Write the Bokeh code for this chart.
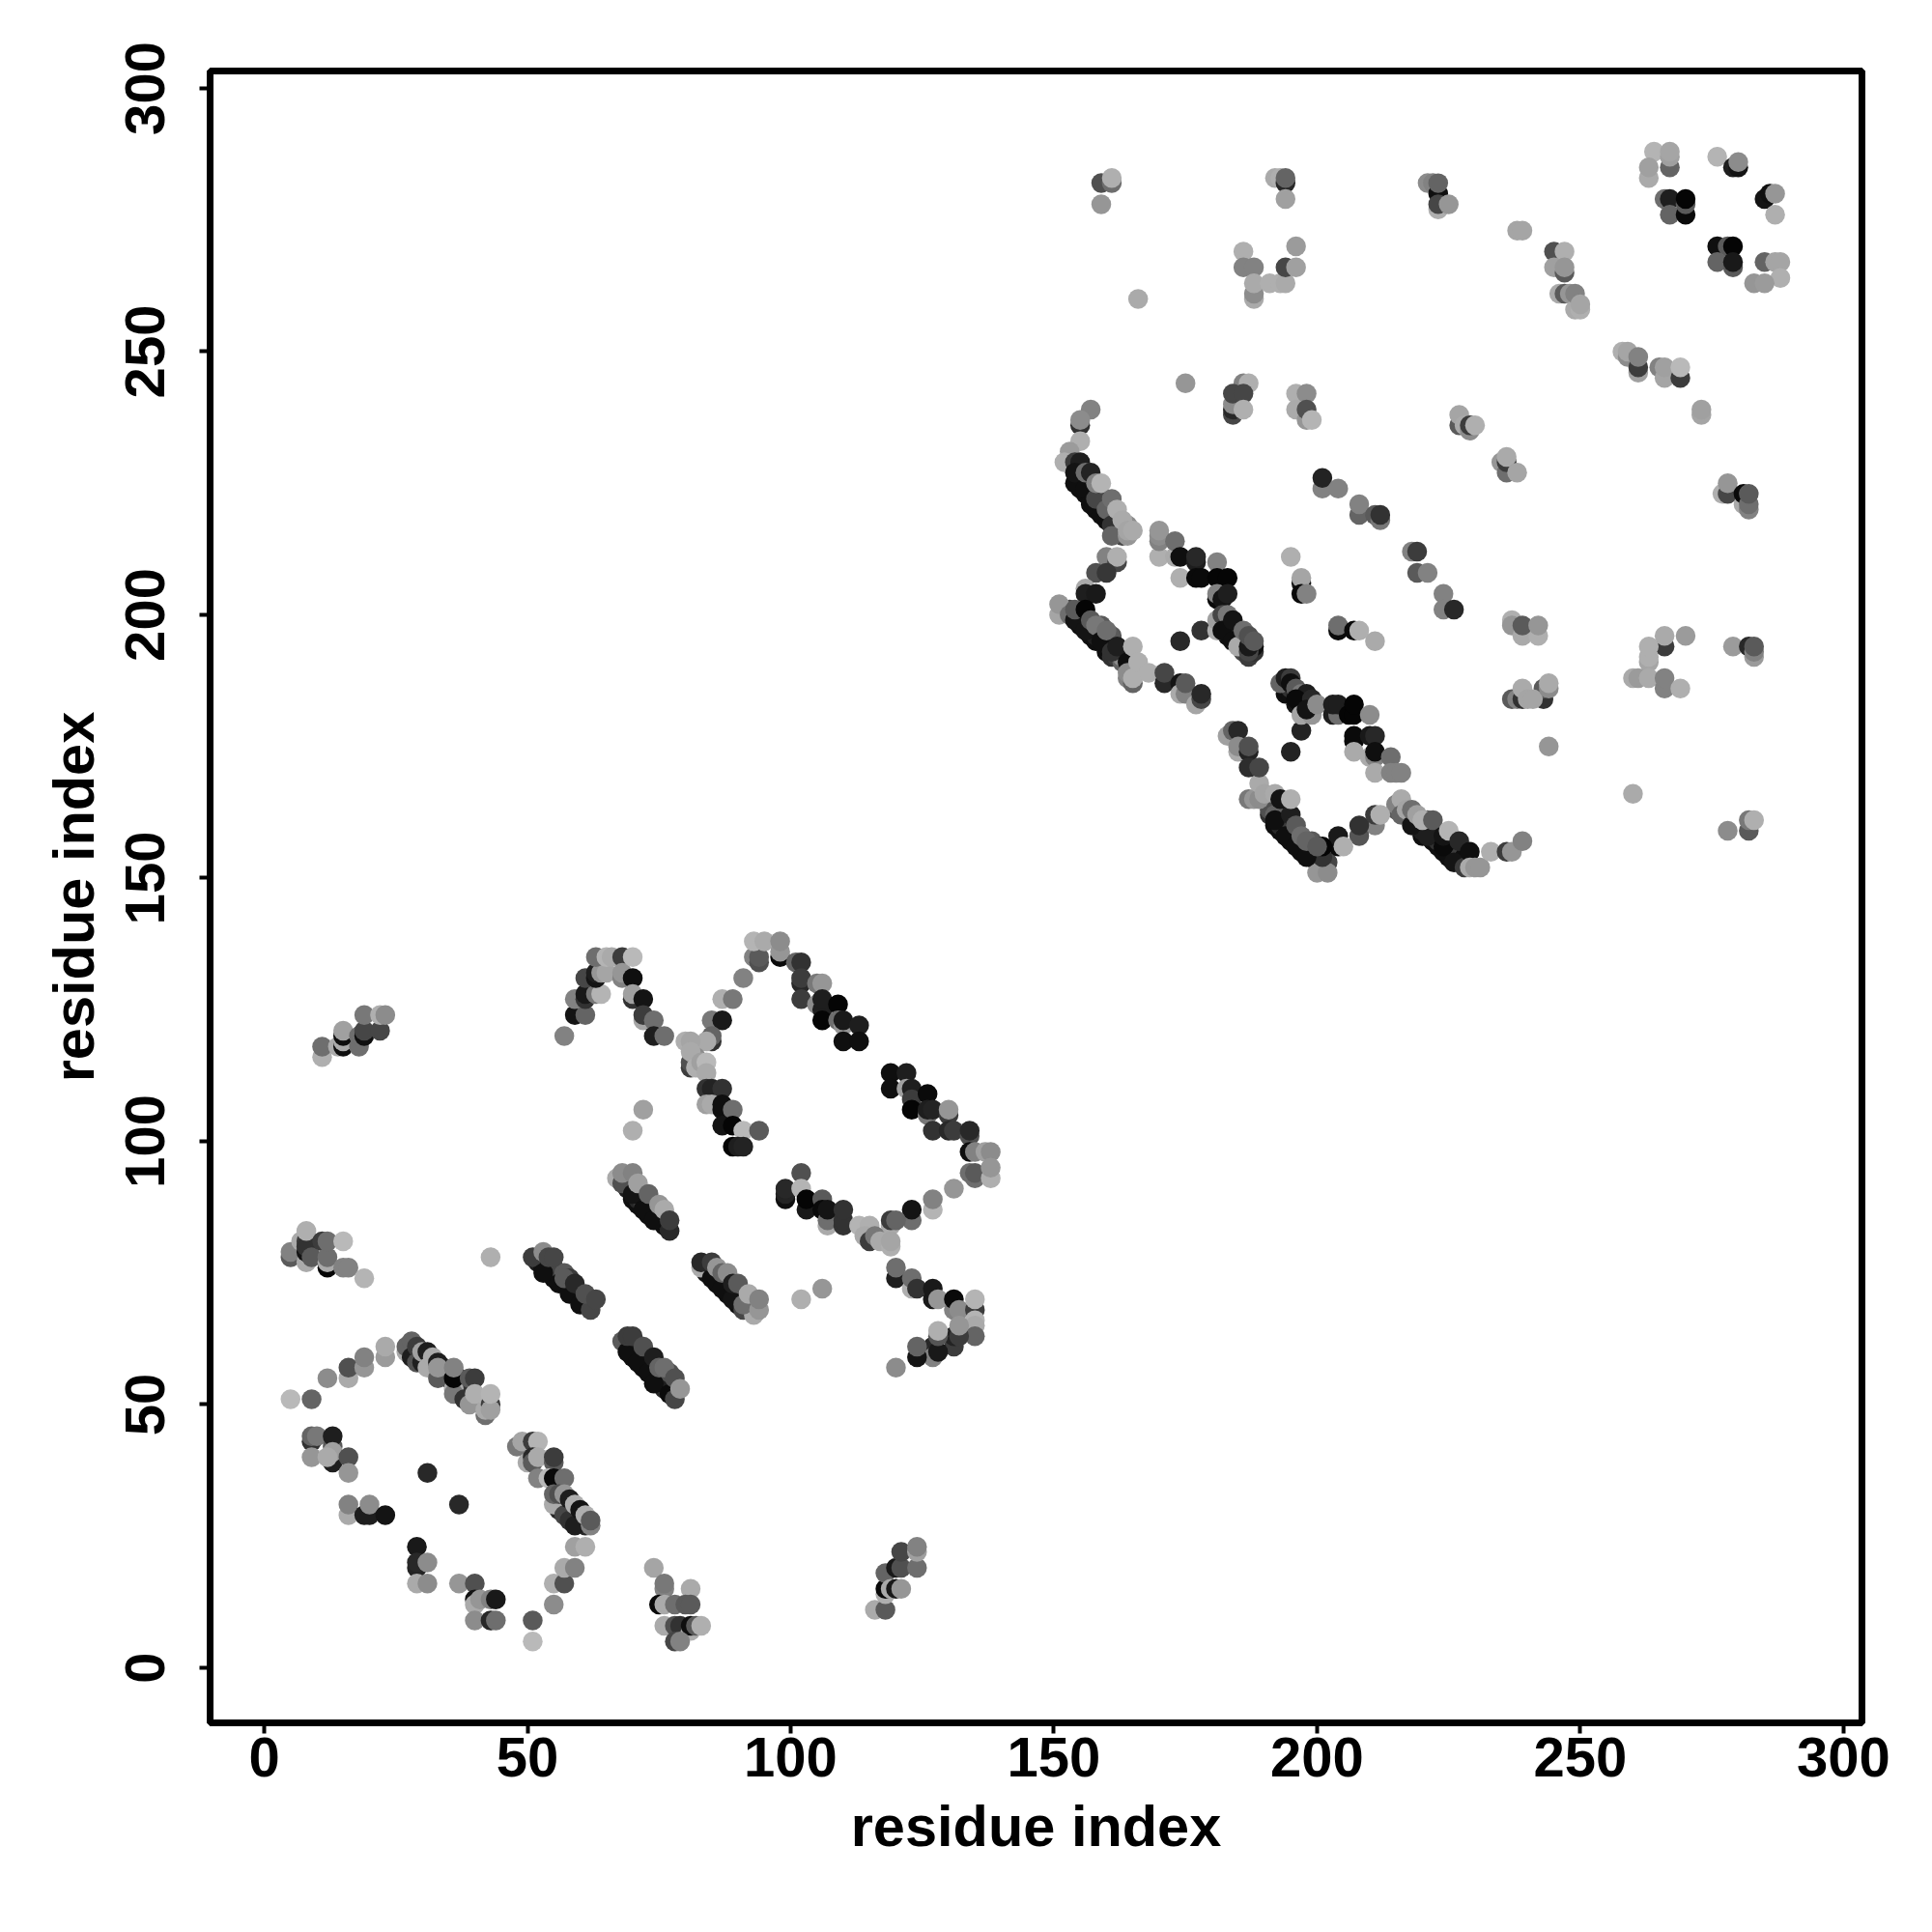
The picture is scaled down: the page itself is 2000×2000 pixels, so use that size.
from bokeh.plotting import figure
from bokeh.models import Range1d, FixedTicker, ColumnDataSource
from bokeh.embed import file_html
from bokeh.resources import INLINE

axis_title = "residue index"
tick_values = [0, 50, 100, 150, 200, 250, 300]

# each entry: residue i, residue j, grey level of the contact
# contacts mostly hidden along the dense diagonals (drawn first)
under_b = [(28,60,30),(28,61,60),(29,60,20),(30,59,15),(31,58,25),(32,58,60),(32,57,30),(33,56,40),(34,57,80),(35,55,30),(35,56,70),(37,54,60),(37,55,40),(38,53,50)]
under_d = [(56,30,40),(56,31,20),(56,32,60),(57,30,15),(57,31,70),(58,29,15),(58,30,40),(59,28,15),(59,29,60),(60,28,15),(60,29,70),(61,27,40),(61,28,20)]
under_e = [(52,77,30),(53,76,15),(54,75,15),(55,74,15),(55,76,60),(56,74,20),(56,75,70),(57,73,15),(57,75,90),(58,72,15),(58,74,60),(59,71,15),(59,72,30),(60,70,15),(61,69,15),(62,69,20)]
under_f = [(69,61,20),(70,59,15),(70,60,40),(71,59,15),(71,61,70),(72,57,15),(72,58,20),(72,59,60),(73,57,15),(73,59,50),(74,55,15),(74,57,60),(75,54,15),(75,55,20),(76,53,40),(76,54,15),(77,54,30),(77,56,80),(78,53,60)]
under_g = [(84,75,20),(85,75,50),(86,73,15),(86,74,30),(87,73,50),(88,71,15),(88,72,20),(89,71,60),(90,69,15),(90,71,80),(91,70,60),(92,68,40),(92,69,15),(93,69,90)]
under_m = [(69,91,30),(70,89,15),(70,91,70),(71,88,15),(71,89,40),(72,88,60),(73,86,15),(73,87,20),(74,86,50),(75,85,15),(75,86,60),(76,84,15),(76,85,30)]
under_ab = [(155,228,20),(155,226,15),(155,224,15),(156,226,40),(156,223,15),(157,222,15),(157,224,25),(158,220,15),(158,221,20),(159,220,30),(159,222,60),(160,218,15),(160,219,20),(161,218,30),(161,219,70),(162,216,40),(162,217,80),(163,215,70),(163,216,100),(164,217,140)]
under_ac = [(153,201,70),(155,200,15),(155,199,15),(155,198,15),(156,199,40),(157,196,15),(157,197,15),(158,195,15),(158,196,30),(159,197,60),(159,198,90),(160,193,15),(160,194,15),(161,192,50),(161,194,25),(161,196,90),(162,192,60),(163,191,100),(163,192,140),(164,193,30)]
under_ad = [(183,196,15),(183,198,20),(184,196,15),(184,197,30),(185,195,15),(185,196,50),(186,193,70),(186,194,15),(186,195,60),(187,192,60),(188,193,50),(188,194,15)]
under_aa = [(194,185,15),(194,186,15),(195,185,15),(195,186,50),(196,183,20),(196,185,40),(197,183,15),(197,184,15),(198,183,15),(198,184,30),(199,182,30),(199,183,15)]
under_y = [(191,162,50),(191,163,80),(192,160,15),(193,159,15),(193,160,40),(194,160,60),(194,163,90),(195,157,15),(195,158,20),(196,158,60),(197,155,15),(197,156,15),(198,156,40),(199,154,15),(199,155,20),(199,157,90),(200,153,60),(200,154,30),(200,155,60),(201,153,70),(202,153,70)]
under_x = [(219,160,40),(220,158,15),(220,159,30),(221,159,60),(221,161,100),(222,157,15),(222,158,20),(223,156,15),(223,157,50),(224,155,15),(225,154,15),(225,156,30),(226,155,20),(227,153,15),(227,154,60),(228,153,40),(228,154,15)]

cluster_a = [(5,78,90),(5,79,130),(7,81,170),(8,77,170),(8,81,60),(8,79,20),(8,80,50),(8,83,175),(9,78,90),(11,81,60),(12,76,5),(12,77,170),(12,78,110),(12,81,110),(15,81,185),(15,76,130),(16,76,130),(19,74,180),(43,78,175)]
cluster_b = [(5,51,185),(9,51,100),(12,55,140),(16,55,170),(16,57,80),(19,57,150),(19,59,130),(23,59,155),(23,61,170),(27,60,170),(27,61,100),(28,62,100),(28,59,30),(29,58,80),(30,58,30),(29,61,60),(30,60,160),(31,60,30),(31,57,170),(32,59,170),(33,58,30),(33,55,90),(33,57,150),(36,53,170),(36,52,120),(36,55,5),(36,57,130),(39,55,90),(40,55,60),(38,51,50),(39,50,150),(40,52,175),(42,48,110),(42,49,170),(43,50,60),(43,49,160),(43,52,180)]
cluster_c = [(9,43,50),(9,44,100),(10,44,120),(13,39,30),(13,42,90),(13,44,30),(13,41,160),(9,40,150),(12,40,170),(16,40,80),(16,37,150),(31,37,40),(37,31,40),(16,29,170),(16,31,130),(19,29,30),(20,29,30),(20,31,140),(23,29,20),(29,23,25),(29,19,35),(29,20,40),(31,20,140),(29,16,170),(31,16,140),(37,16,150),(40,16,80),(40,13,20),(40,12,170),(41,13,150),(43,13,130),(44,13,25),(40,9,140),(43,9,40),(44,9,110),(51,9,90),(51,5,185),(55,12,140),(55,16,175),(57,16,80),(57,19,170),(59,19,130),(59,23,160),(61,23,175)]
cluster_d = [(48,42,120),(49,43,165),(51,43,60),(52,43,180),(50,39,170),(51,40,40),(51,39,90),(52,40,170),(55,39,90),(55,40,60),(52,36,130),(54,36,185),(55,36,10),(57,36,110),(55,31,170),(55,33,100),(56,33,80),(57,29,70),(58,28,50),(59,27,30),(57,33,150),(58,32,30),(59,31,175),(60,30,20),(61,29,175),(62,27,130),(62,28,90)]
cluster_e = [(51,78,60),(53,75,15),(56,73,15),(58,71,15),(60,69,15),(53,79,140),(54,78,70),(55,78,70),(57,74,90),(59,73,40),(62,68,70),(61,71,80),(63,70,70)]
cluster_f = [(68,62,90),(69,60,15),(71,58,15),(73,56,15),(74,54,15),(77,52,10),(78,51,70),(69,63,60),(70,63,60),(72,61,80),(74,59,30),(75,57,100),(76,57,110),(78,55,80),(79,53,150)]
cluster_g = [(83,76,170),(83,77,40),(85,74,15),(87,72,15),(89,70,20),(91,68,70),(93,67,170),(85,77,60),(86,76,150),(87,75,100),(88,75,140),(89,73,30),(90,73,90),(91,69,110),(92,71,170),(94,68,150),(94,70,130),(102,70,175),(106,72,150)]
cluster_h = [(120,74,30),(120,76,110),(123,72,175),(123,74,110),(124,72,50),(127,70,25),(127,72,25),(128,70,150),(131,68,130),(131,70,10),(132,68,140),(135,68,60),(135,70,180),(135,66,180),(135,65,170),(135,63,100),(131,61,60),(131,63,35),(132,63,60),(132,65,150),(127,61,40),(127,59,130),(128,60,25),(128,63,85),(128,64,175),(124,59,20),(124,61,100),(120,57,140)]
cluster_i = [(116,11,170),(118,11,90),(118,14,175),(118,15,10),(118,18,100),(119,15,170),(120,15,25),(120,19,25),(121,15,150),(121,19,80),(121,22,70),(124,19,110),(124,22,160),(124,23,130)]
cluster_j = [(74,19,165),(76,15,130),(76,16,120),(75,12,10),(76,12,170),(78,12,110),(81,15,170),(80,12,90),(81,12,90),(76,8,170),(78,8,80),(79,8,50),(81,7,175),(81,8,15),(82,8,90),(83,8,175),(78,5,70),(79,5,130)]
cluster_k = [(11,116,175),(11,118,110),(14,118,170),(15,118,15),(15,119,170),(15,120,15),(15,121,160),(18,118,110),(18,120,110),(19,120,15),(19,121,70),(22,121,70),(19,124,120),(22,124,175),(23,124,140)]
cluster_l = [(57,120,130),(59,124,20),(61,124,100),(59,127,130),(61,127,50),(61,128,25),(63,128,120),(64,128,180),(61,131,70),(63,131,20),(63,132,30),(64,132,150),(65,132,165),(63,135,110),(65,135,180),(66,135,170),(68,135,60),(68,131,130),(68,132,150),(70,135,185),(70,131,15),(70,127,50),(70,128,160),(72,127,20),(72,123,165),(72,124,60),(74,123,110),(74,120,30),(76,120,110),(72,106,160),(70,102,175)]
cluster_m = [(67,93,170),(68,92,80),(68,94,140),(70,94,130),(70,90,20),(72,87,15),(74,85,15),(71,92,160),(73,90,100),(75,88,150),(76,87,170),(77,83,40),(77,85,60)]
cluster_n = [(93,135,130),(94,134,80),(94,135,90),(93,138,180),(95,138,170),(98,135,10),(98,136,150),(98,138,140),(101,134,100),(102,134,50),(102,130,40),(102,131,60),(102,127,60),(105,130,120),(106,130,150),(105,126,140),(106,125,30),(106,127,30),(109,126,5),(106,123,5),(109,123,110),(110,122,150),(110,123,25),(113,122,30),(110,119,15),(113,119,15)]
cluster_o = [(91,131,130),(87,127,175),(89,127,120),(85,123,120),(87,123,25),(85,119,50),(85,120,100),(84,119,170),(80,119,175),(81,119,165),(81,114,60),(81,115,80),(82,116,140),(81,117,170),(82,114,175),(83,115,160),(84,115,185),(84,113,170),(84,110,50),(85,110,35),(87,110,50),(84,107,160),(85,107,170),(87,106,15),(87,107,15),(89,106,110),(87,103,20),(89,103,5),(91,102,185),(94,102,90),(89,99,5),(90,99,30),(91,99,35)]
cluster_p = [(119,113,15),(122,113,30),(119,110,15),(122,110,160),(123,110,30),(123,108,60),(126,109,10),(123,106,5),(126,105,120),(126,106,30),(127,106,35),(130,105,60),(130,106,150),(127,102,50),(130,102,40),(131,102,60),(134,101,80),(134,102,40),(134,98,15),(135,98,130),(137,98,160),(138,98,140),(134,94,110),(135,93,110),(135,94,90),(138,93,175),(138,95,150),(131,91,150),(127,87,180),(127,89,130),(123,85,110),(123,87,20),(119,84,170),(119,85,60),(120,85,100)]
cluster_q = [(102,94,80),(99,89,15),(99,90,35),(99,91,40),(102,91,180),(103,87,25),(103,89,5),(106,89,90),(106,87,10),(107,84,170),(107,85,110),(107,87,20),(110,84,50),(110,85,50),(110,87,50),(113,84,180),(115,84,175),(114,82,170),(115,81,60),(116,82,120),(117,81,170),(119,80,175),(119,81,165)]
cluster_r = [(159,282,80),(161,282,110),(161,283,175),(159,278,150),(192,283,170),(193,283,175),(194,282,40),(194,283,100),(194,279,160),(221,282,140),(222,282,130),(223,280,15),(223,282,100),(223,277,175),(223,278,70),(225,278,150)]
cluster_s = [(186,269,175),(186,266,130),(188,266,130),(188,260,170),(188,261,140),(188,263,170),(191,263,175),(193,263,175),(194,263,170),(194,266,70),(196,266,160),(196,270,155),(166,260,170),(157,239,130),(155,236,50),(155,237,140),(175,244,150),(186,244,130),(187,244,175),(184,238,70),(184,239,40),(184,240,140),(184,242,70),(186,242,70),(186,239,175),(196,242,175),(198,242,140),(196,239,170),(198,237,150),(198,239,80),(199,237,180)]
cluster_t = [(238,273,165),(239,273,165),(245,269,80),(247,269,175),(245,266,160),(247,265,90),(247,266,150),(246,261,170),(247,261,90),(248,261,150),(249,258,170),(249,261,130),(250,258,175),(250,259,165),(258,250,175),(259,249,140),(259,250,165),(261,246,160),(261,247,60),(261,249,130),(265,247,130),(266,245,165),(266,247,160),(269,245,60),(269,247,185),(273,238,165),(273,239,160),(227,236,90),(227,238,165),(228,236,170),(229,235,140),(229,236,60),(230,236,175)]
cluster_u = [(264,288,180),(267,285,100),(267,287,160),(267,288,165),(263,283,170),(263,285,160),(266,279,110),(267,279,30),(267,276,100),(270,276,10),(270,278,90),(270,279,5),(276,287,180),(279,285,30),(280,285,20),(280,286,140),(285,279,20),(286,280,15),(287,280,150),(287,276,175),(276,270,15),(278,270,90),(279,270,5),(276,267,100),(279,266,90),(279,267,25),(285,267,100),(287,267,165),(288,267,165),(288,264,175),(283,263,150),(285,263,155)]
cluster_v = [(235,229,150),(236,227,110),(236,229,60),(236,230,170),(238,227,165),(277,223,175),(278,223,70),(278,225,150),(281,221,170),(281,223,10),(282,220,130),(282,221,110),(282,223,90),(224,204,130),(224,201,130),(226,201,40),(237,199,175),(237,198,150),(239,196,170),(242,196,175),(239,198,90),(242,198,150),(266,194,60),(266,196,170),(270,196,155),(263,191,165),(263,192,175),(263,194,175),(260,188,170),(261,188,155),(263,188,170),(266,186,130),(266,188,130),(269,186,175),(279,194,155),(282,194,40),(283,192,155),(283,193,130),(283,194,90)]
cluster_w = [(237,184,90),(238,184,130),(239,184,50),(239,186,170),(240,184,165),(243,184,50),(243,186,90),(241,184,165),(244,186,140),(244,187,170),(244,175,150),(260,166,170),(278,159,140),(282,159,90),(282,161,120),(283,161,175)]
cluster_x = [(215,163,90),(215,164,130),(216,165,170),(216,162,100),(217,163,165),(218,160,20),(221,158,30),(218,163,110),(219,162,160),(220,161,175),(222,161,90),(224,156,10),(224,158,20),(226,153,20),(225,159,180),(227,157,40),(228,152,60),(229,155,15),(229,152,170),(230,152,150),(231,152,150),(233,155,175),(236,155,60),(237,155,150),(239,157,130)]
cluster_y = [(211,160,130),(211,162,60),(212,162,175),(208,158,85),(208,160,50),(204,156,10),(204,158,25),(205,156,175),(200,151,150),(202,151,140),(201,154,50),(201,156,5),(187,165,120),(188,165,150),(189,165,140),(189,168,170),(190,166,165),(192,166,170),(192,162,100),(192,161,15),(194,158,15),(196,156,15),(198,154,15),(193,165,20),(195,162,30),(195,165,175),(196,160,90),(197,158,110),(198,157,100),(200,156,90)]
cluster_z = [(183,177,160),(184,178,100),(185,178,40),(185,174,170),(185,175,140),(187,174,35),(187,175,80),(187,171,45),(189,171,70),(195,174,35),(197,178,35)]
cluster_aa = [(193,187,100),(194,188,30),(195,188,60),(195,187,15),(196,186,90),(197,185,120),(198,185,30),(196,184,10),(199,184,40),(197,181,165),(199,181,150),(198,182,20),(200,183,140),(203,181,30),(204,181,110),(203,183,30),(204,183,30),(206,181,5),(207,181,5),(207,183,5),(207,176,10),(207,177,10),(210,181,140),(210,177,25),(211,177,40),(207,174,170),(210,173,170),(211,173,130),(211,174,15),(214,173,110),(211,170,170),(214,170,130),(215,170,130),(216,170,130)]
cluster_ab = [(155,233,175),(153,231,155),(152,229,175),(154,229,60),(155,229,30),(154,225,15),(154,227,20),(156,224,15),(157,221,15),(159,219,15),(156,227,110),(157,227,35),(158,222,70),(158,225,130),(159,225,180),(160,220,100),(161,222,110),(161,217,50),(161,215,100),(162,220,175),(163,218,170),(164,215,150),(164,216,165),(165,216,170),(160,211,130),(162,210,70),(162,211,175),(158,208,80),(160,208,55)]
cluster_ac = [(156,205,170),(156,204,30),(158,204,25),(151,200,165),(151,202,150),(153,200,110),(154,199,20),(154,201,90),(156,201,5),(156,197,20),(157,199,90),(158,198,120),(159,195,15),(160,197,110),(161,193,50),(162,194,30),(164,191,15),(164,188,130),(164,189,140),(165,187,100),(165,188,175),(165,194,175),(166,191,175),(168,189,175),(171,187,40),(171,189,70),(174,187,20),(174,185,170),(175,185,130),(175,187,90),(177,183,165),(178,184,70),(178,185,40)]
cluster_ad = [(170,211,175),(170,214,130),(170,215,140),(170,216,150),(173,211,170),(173,214,110),(174,211,15),(174,207,175),(177,210,30),(177,211,40),(177,207,10),(178,207,10),(181,210,130),(181,207,5),(183,207,5),(181,203,10),(181,204,130),(182,203,20),(183,204,30),(178,197,50),(174,195,40),(181,197,175),(181,199,160),(182,200,70),(183,200,120),(182,197,15),(184,195,15),(184,199,20),(185,194,170),(186,197,110),(187,193,70),(187,194,25),(187,196,80),(188,195,90)]
cluster_ae = [(195,211,175),(197,206,20),(197,207,165),(197,204,10),(198,204,130),(201,224,130),(201,226,35),(204,224,130),(208,219,100),(208,221,130),(211,219,90),(212,218,120),(212,219,50),(218,212,130),(219,212,60),(219,208,90),(221,208,130),(204,197,10),(204,198,110),(207,197,10),(208,197,175),(211,195,170)]

clusters = [under_b, under_d, under_e, under_f, under_g, under_m, under_ab, under_ac, under_ad, under_aa, under_y, under_x,
            cluster_a, cluster_b, cluster_c, cluster_d, cluster_e, cluster_f, cluster_g, cluster_h,
            cluster_i, cluster_j, cluster_k, cluster_l, cluster_m, cluster_n, cluster_o, cluster_p,
            cluster_q, cluster_r, cluster_s, cluster_t, cluster_u, cluster_v, cluster_w, cluster_x,
            cluster_y, cluster_z, cluster_aa, cluster_ab, cluster_ac, cluster_ad, cluster_ae]

rows = [c for cl in clusters for c in cl]
src = ColumnDataSource(dict(
    x=[r[0] for r in rows],
    y=[r[1] for r in rows],
    c=["#%02x%02x%02x" % (r[2], r[2], r[2]) for r in rows],
))

p = figure(width=1980, height=1980, frame_width=1710, frame_height=1710,
           x_range=Range1d(-10.28, 303.5), y_range=Range1d(-10.46, 303.3),
           output_backend="svg", toolbar_location=None,
           min_border_left=217, min_border_right=53, min_border_top=73, min_border_bottom=197,
           background_fill_color="white", border_fill_color="white")
p.grid.visible = False
p.outline_line_color = "black"
p.outline_line_width = 7

p.scatter("x", "y", source=src, size=20.5, color="c", line_color=None)

for ax in (p.xaxis[0], p.yaxis[0]):
    ax.ticker = FixedTicker(ticks=tick_values)
    ax.axis_line_color = "black"
    ax.axis_line_width = 7
    ax.major_tick_line_width = 4
    ax.major_tick_line_color = "black"
    ax.major_tick_in = 0
    ax.major_tick_out = 11
    ax.minor_tick_line_color = None
    ax.major_label_text_font = "Liberation Sans"
    ax.major_label_text_font_style = "bold"
    ax.major_label_text_font_size = "58px"
    ax.major_label_text_color = "black"
    ax.axis_label = axis_title
    ax.axis_label_text_font = "Liberation Sans"
    ax.axis_label_text_font_style = "bold"
    ax.axis_label_text_font_size = "59.5px"
    ax.axis_label_text_color = "black"

p.xaxis[0].major_label_standoff = 4
p.xaxis[0].axis_label_standoff = 15
p.yaxis[0].major_label_orientation = "vertical"
p.yaxis[0].major_label_standoff = 36
p.yaxis[0].axis_label_standoff = 18

open("out.html", "w").write(file_html(p, INLINE))
